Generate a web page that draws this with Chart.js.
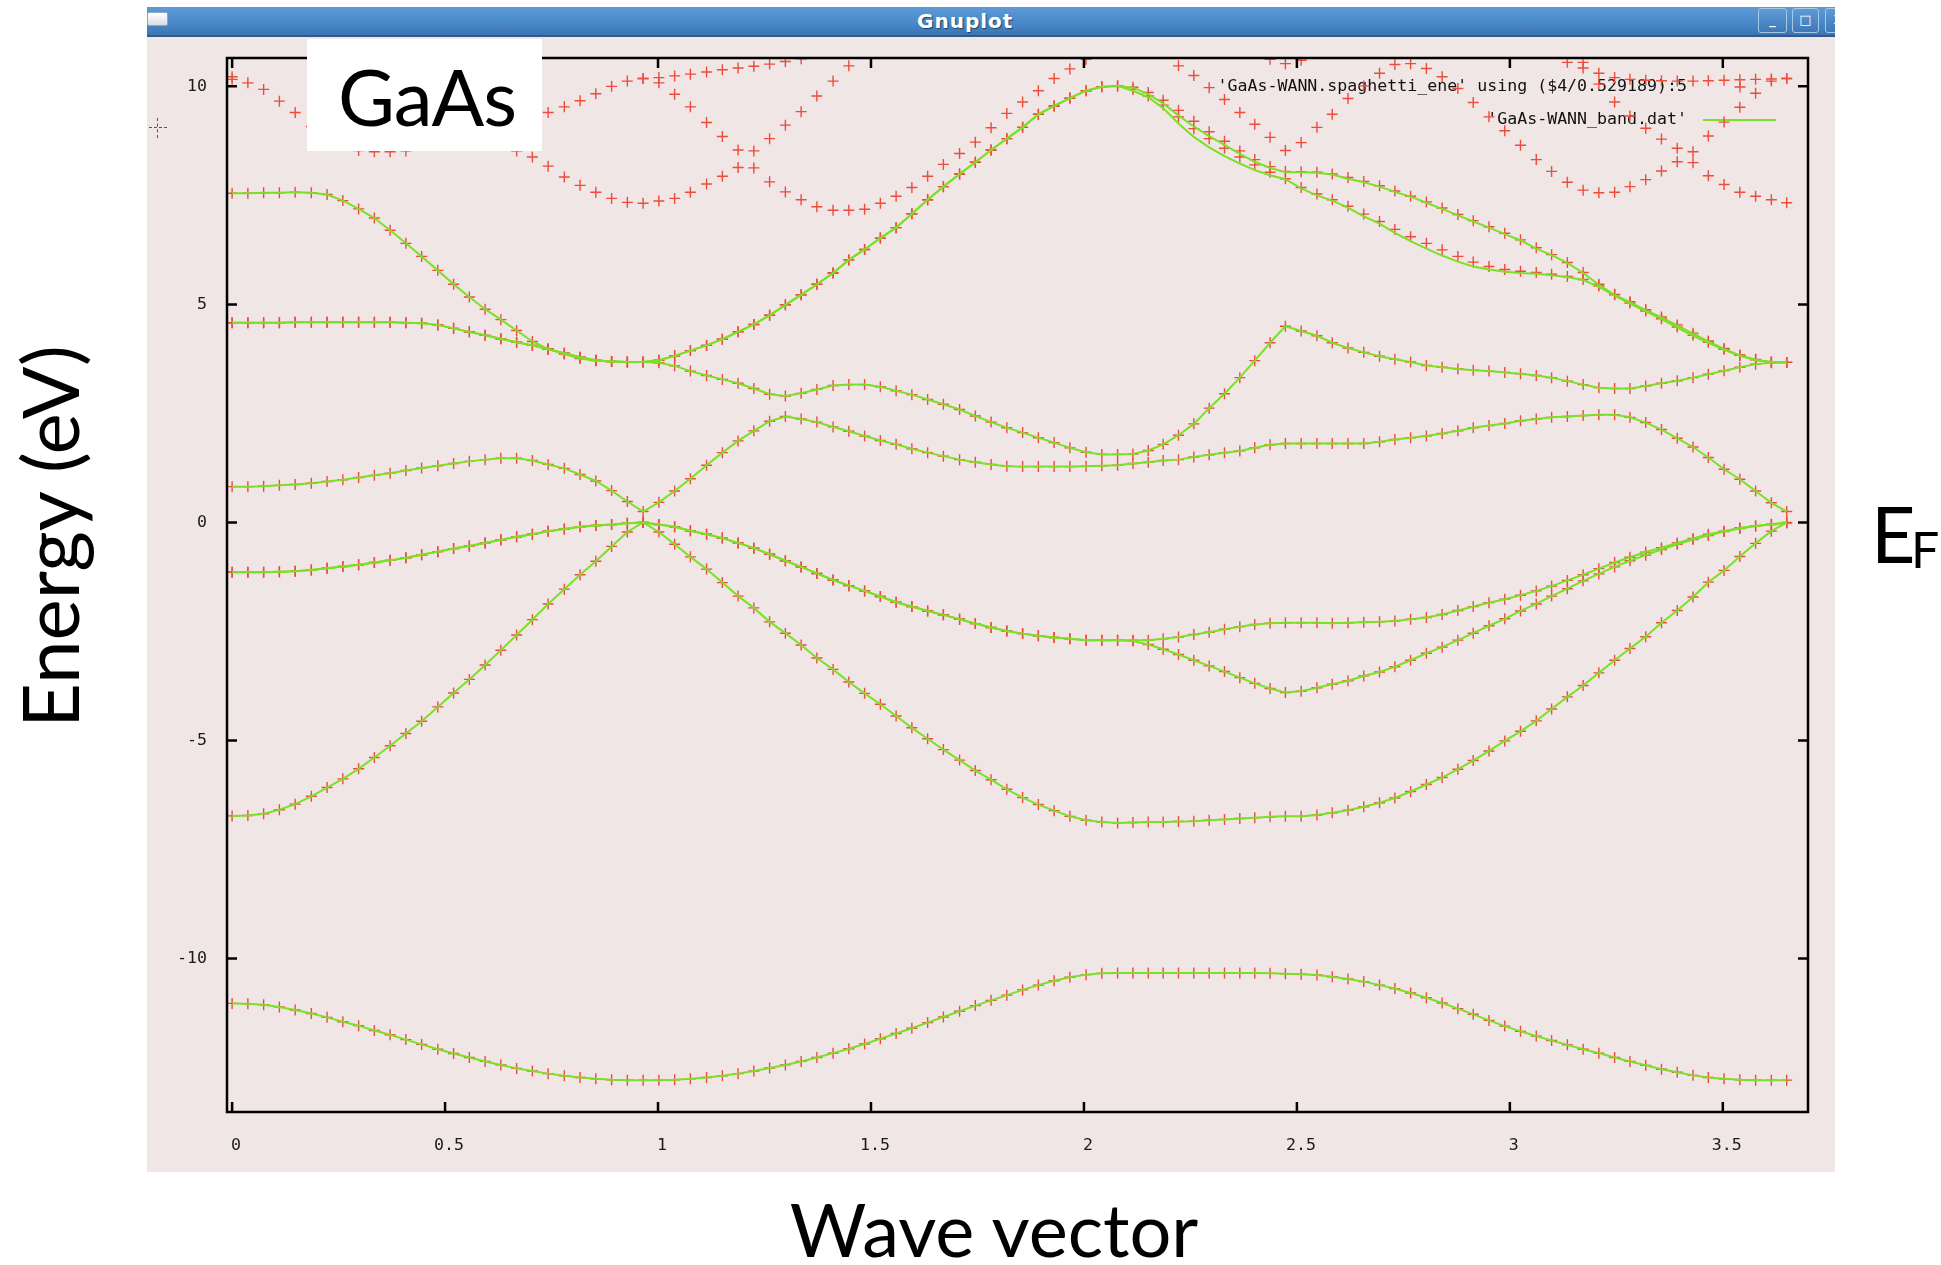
<!DOCTYPE html>
<html>
<head>
<meta charset="utf-8">
<script src="https://cdn.jsdelivr.net/npm/chart.js@4.4.1/dist/chart.umd.min.js"></script>
<style>
  html, body { margin: 0; padding: 0; background: #fff; }
  body { width: 1941px; height: 1265px; position: relative; overflow: hidden; font-family: Lato, sans-serif; }
  .titlebar { position: absolute; left: 147px; top: 7px; width: 1688px; height: 30px; box-sizing: border-box;
    background: linear-gradient(#5c9bd8, #4a89c9 55%, #3d74b1); border-bottom: 2px solid #2d5b8c; overflow: hidden; }
  .titlebar .name { position: absolute; left: 770px; top: 2px; font: bold 20px "DejaVu Sans", sans-serif; color: #fff;
    letter-spacing: 1px; text-shadow: 1px 1px 1px #1f3f62; }
  .titlebar .icon { position: absolute; left: 0; top: 5px; width: 21px; height: 14px; border-radius: 2px;
    background: linear-gradient(#fff, #d9dde3); border: 1px solid #8fa9c4; box-sizing: border-box; }
  .titlebar .btn { position: absolute; top: 1px; height: 25px; border: 1px solid #a6c8ea; border-radius: 3px; box-sizing: border-box;
    background: linear-gradient(#5d9bd6, #3f78b6); color: #fff; font: bold 13px "DejaVu Sans", sans-serif; text-align: center; line-height: 22px; }
  .win { position: absolute; left: 147px; top: 37px; width: 1688px; height: 1135px; background: #efe6e5; }
  .win canvas { position: absolute; left: 0; top: 0; }
  .cursor-h { position: absolute; left: 149px; top: 127px; width: 18px; border-top: 1px dashed #555; }
  .cursor-v { position: absolute; left: 157px; top: 118px; height: 20px; border-left: 1px dashed #555; }
  .slide { position: absolute; color: #000; white-space: nowrap; line-height: 1; }
  .tag { position: absolute; left: 307px; top: 39px; width: 235px; height: 112px; background: #fff; }
  .tag span { position: absolute; left: 5px; right: 0; top: 18px; text-align: center; font-size: 78px; line-height: 1; letter-spacing: -1px; }
</style>
</head>
<body>
<div class="titlebar">
  <div class="icon"></div>
  <div class="name">Gnuplot</div>
  <div class="btn" style="left:1611px;width:29px;">_</div>
  <div class="btn" style="left:1645px;width:27px;">&#9633;</div>
  <div class="btn" style="left:1678px;width:27px;">X</div>
</div>
<div class="win"><canvas id="bands" width="1688" height="1135"></canvas></div>
<div class="cursor-h"></div>
<div class="cursor-v"></div>
<div class="tag"><span>GaAs</span></div>
<div class="slide" style="left:10px;top:728px;font-size:78px;transform-origin:0 0;transform:rotate(-90deg);">Energy (eV)</div>
<div class="slide" style="left:994px;top:1192px;font-size:74px;transform:translateX(-50%);">Wave vector</div>
<div class="slide" style="left:1871px;top:495px;font-size:77px;">E</div>
<div class="slide" style="left:1911px;top:524px;font-size:50px;">F</div>

<script>
// k positions of the computed points along L - Gamma - X - U|K - Gamma
const kPath = [
  0.000, 0.037, 0.074, 0.111, 0.148, 0.186, 0.223, 0.260, 0.297, 0.334, 0.371, 0.408, 0.445, 0.483, 0.520, 0.557, 0.594, 0.631, 0.668, 0.705, 0.742, 0.780, 0.817, 0.854, 0.891, 0.928, 0.965,
  1.002, 1.039, 1.076, 1.114, 1.151, 1.188, 1.225, 1.262, 1.299, 1.336, 1.373, 1.411, 1.448, 1.485, 1.522, 1.559, 1.596, 1.633, 1.670, 1.708, 1.745, 1.782, 1.819, 1.856, 1.893, 1.930, 1.967, 2.005, 2.042, 2.079,
  2.115, 2.151, 2.186, 2.222, 2.258, 2.294, 2.330, 2.366, 2.401, 2.437, 2.473,
  2.510, 2.547, 2.583, 2.620, 2.657, 2.694, 2.730, 2.767, 2.804, 2.841, 2.878, 2.914, 2.951, 2.988, 3.025, 3.062, 3.098, 3.135, 3.172, 3.209, 3.246, 3.282, 3.319, 3.356, 3.393, 3.430, 3.466, 3.503, 3.540, 3.577, 3.614, 3.650
];

// Wannier-interpolated bands (green lines), eV
const wann1 = [
  -11.03, -11.04, -11.06, -11.11, -11.18, -11.26, -11.35, -11.45, -11.54, -11.65, -11.75, -11.86, -11.97, -12.08, -12.18, -12.27, -12.36, -12.44, -12.52, -12.58, -12.64, -12.69, -12.73, -12.76, -12.78, -12.79, -12.79,
  -12.79, -12.78, -12.76, -12.73, -12.69, -12.64, -12.58, -12.51, -12.44, -12.36, -12.27, -12.17, -12.07, -11.96, -11.84, -11.72, -11.60, -11.47, -11.34, -11.21, -11.08, -10.96, -10.84, -10.72, -10.61, -10.51, -10.43, -10.37, -10.34, -10.33,
  -10.33, -10.33, -10.33, -10.33, -10.33, -10.33, -10.33, -10.33, -10.33, -10.34, -10.35,
  -10.36, -10.38, -10.42, -10.47, -10.53, -10.61, -10.69, -10.79, -10.90, -11.02, -11.15, -11.28, -11.42, -11.55, -11.67, -11.78, -11.88, -11.98, -12.08, -12.17, -12.27, -12.36, -12.45, -12.54, -12.61, -12.68, -12.73, -12.76, -12.78, -12.79, -12.79, -12.79
];
const wann2 = [
  -6.73, -6.72, -6.68, -6.59, -6.46, -6.28, -6.08, -5.88, -5.65, -5.39, -5.12, -4.84, -4.56, -4.23, -3.91, -3.60, -3.27, -2.93, -2.58, -2.23, -1.87, -1.53, -1.20, -0.89, -0.55, -0.22, 0.00,
  -0.22, -0.50, -0.79, -1.07, -1.38, -1.69, -1.96, -2.28, -2.54, -2.81, -3.11, -3.37, -3.66, -3.92, -4.17, -4.44, -4.71, -4.96, -5.21, -5.45, -5.69, -5.90, -6.12, -6.31, -6.47, -6.61, -6.74, -6.83, -6.87, -6.89,
  -6.88, -6.87, -6.87, -6.86, -6.85, -6.83, -6.81, -6.79, -6.77, -6.75, -6.74,
  -6.74, -6.71, -6.66, -6.60, -6.52, -6.43, -6.32, -6.17, -6.01, -5.85, -5.66, -5.46, -5.24, -5.01, -4.79, -4.55, -4.28, -4.00, -3.74, -3.45, -3.16, -2.89, -2.62, -2.30, -2.02, -1.71, -1.37, -1.10, -0.78, -0.48, -0.20, 0.00
];
const wann3 = [
  -1.14, -1.14, -1.14, -1.13, -1.12, -1.09, -1.05, -1.01, -0.97, -0.92, -0.87, -0.81, -0.74, -0.67, -0.60, -0.54, -0.47, -0.40, -0.33, -0.27, -0.20, -0.15, -0.10, -0.07, -0.05, -0.02, 0.00,
  -0.05, -0.10, -0.19, -0.27, -0.36, -0.47, -0.59, -0.73, -0.88, -1.02, -1.17, -1.32, -1.45, -1.57, -1.70, -1.83, -1.93, -2.03, -2.12, -2.22, -2.32, -2.41, -2.49, -2.55, -2.60, -2.64, -2.67, -2.70, -2.70, -2.70,
  -2.72, -2.80, -2.91, -3.03, -3.16, -3.29, -3.42, -3.56, -3.69, -3.81, -3.90,
  -3.87, -3.79, -3.71, -3.63, -3.52, -3.43, -3.31, -3.16, -3.00, -2.86, -2.70, -2.54, -2.37, -2.21, -2.03, -1.87, -1.69, -1.52, -1.34, -1.18, -1.02, -0.88, -0.75, -0.62, -0.50, -0.39, -0.30, -0.21, -0.14, -0.08, -0.05, -0.01
];
const wann4 = [
  -1.14, -1.14, -1.14, -1.13, -1.12, -1.09, -1.05, -1.01, -0.97, -0.92, -0.87, -0.81, -0.74, -0.67, -0.60, -0.54, -0.47, -0.40, -0.33, -0.27, -0.20, -0.15, -0.10, -0.07, -0.05, -0.02, 0.00,
  -0.05, -0.10, -0.19, -0.27, -0.36, -0.47, -0.59, -0.73, -0.88, -1.02, -1.17, -1.32, -1.45, -1.57, -1.70, -1.83, -1.93, -2.03, -2.12, -2.22, -2.32, -2.41, -2.49, -2.55, -2.60, -2.64, -2.67, -2.70, -2.70, -2.70,
  -2.70, -2.70, -2.67, -2.63, -2.57, -2.52, -2.45, -2.39, -2.34, -2.31, -2.30,
  -2.30, -2.30, -2.31, -2.30, -2.29, -2.28, -2.26, -2.22, -2.18, -2.11, -2.02, -1.93, -1.84, -1.76, -1.67, -1.57, -1.46, -1.33, -1.20, -1.06, -0.92, -0.80, -0.68, -0.58, -0.47, -0.37, -0.27, -0.20, -0.12, -0.08, -0.04, -0.01
];
const wann5 = [
  0.82, 0.82, 0.83, 0.85, 0.87, 0.90, 0.94, 0.98, 1.03, 1.08, 1.13, 1.19, 1.25, 1.30, 1.35, 1.40, 1.44, 1.47, 1.47, 1.42, 1.33, 1.24, 1.10, 0.95, 0.73, 0.48, 0.25,
  0.46, 0.72, 1.00, 1.31, 1.60, 1.87, 2.10, 2.32, 2.43, 2.37, 2.30, 2.19, 2.09, 1.98, 1.88, 1.79, 1.69, 1.60, 1.52, 1.44, 1.38, 1.33, 1.29, 1.28, 1.28, 1.28, 1.28, 1.29, 1.30, 1.31,
  1.35, 1.38, 1.42, 1.44, 1.50, 1.55, 1.60, 1.64, 1.71, 1.78, 1.81,
  1.81, 1.81, 1.81, 1.81, 1.81, 1.85, 1.90, 1.94, 1.98, 2.04, 2.10, 2.17, 2.22, 2.27, 2.33, 2.37, 2.41, 2.43, 2.45, 2.47, 2.47, 2.41, 2.29, 2.13, 1.93, 1.73, 1.49, 1.22, 0.99, 0.72, 0.45, 0.25
];
const wann6 = [
  4.58, 4.58, 4.58, 4.58, 4.59, 4.59, 4.59, 4.59, 4.59, 4.59, 4.59, 4.58, 4.57, 4.53, 4.45, 4.37, 4.29, 4.21, 4.13, 4.06, 3.97, 3.88, 3.79, 3.72, 3.69, 3.68, 3.68,
  3.66, 3.59, 3.47, 3.37, 3.28, 3.19, 3.07, 2.94, 2.90, 2.96, 3.05, 3.14, 3.16, 3.16, 3.11, 3.02, 2.93, 2.82, 2.71, 2.59, 2.44, 2.30, 2.17, 2.06, 1.94, 1.83, 1.71, 1.61, 1.56, 1.56,
  1.57, 1.65, 1.79, 2.00, 2.26, 2.62, 2.95, 3.32, 3.71, 4.12, 4.50,
  4.39, 4.28, 4.12, 4.00, 3.90, 3.81, 3.74, 3.68, 3.60, 3.56, 3.52, 3.49, 3.47, 3.44, 3.41, 3.37, 3.32, 3.24, 3.16, 3.09, 3.07, 3.07, 3.13, 3.19, 3.25, 3.32, 3.40, 3.48, 3.56, 3.63, 3.66, 3.67
];
const wann7 = [
  4.58, 4.58, 4.58, 4.58, 4.59, 4.59, 4.59, 4.59, 4.59, 4.59, 4.59, 4.58, 4.57, 4.53, 4.45, 4.37, 4.29, 4.21, 4.13, 4.06, 3.97, 3.88, 3.79, 3.72, 3.69, 3.68, 3.68,
  3.72, 3.82, 3.94, 4.06, 4.20, 4.37, 4.54, 4.75, 4.99, 5.22, 5.46, 5.72, 6.02, 6.26, 6.52, 6.76, 7.08, 7.40, 7.70, 7.99, 8.26, 8.54, 8.80, 9.06, 9.36, 9.55, 9.73, 9.90, 9.99, 10.01,
  9.90, 9.75, 9.50, 9.15, 8.84, 8.60, 8.40, 8.23, 8.08, 7.96, 7.87,
  7.66, 7.50, 7.38, 7.22, 7.02, 6.85, 6.64, 6.45, 6.28, 6.12, 5.98, 5.87, 5.80, 5.75, 5.72, 5.70, 5.67, 5.63, 5.56, 5.40, 5.20, 5.02, 4.84, 4.66, 4.47, 4.28, 4.12, 3.96, 3.82, 3.72, 3.68, 3.67
];
const wann8 = [
  7.55, 7.55, 7.56, 7.56, 7.57, 7.56, 7.52, 7.38, 7.19, 6.98, 6.70, 6.40, 6.10, 5.78, 5.46, 5.17, 4.89, 4.65, 4.40, 4.15, 3.98, 3.86, 3.76, 3.71, 3.69, 3.68, 3.68,
  3.72, 3.82, 3.94, 4.06, 4.20, 4.37, 4.54, 4.75, 4.99, 5.22, 5.46, 5.72, 6.02, 6.26, 6.52, 6.76, 7.08, 7.40, 7.70, 7.99, 8.26, 8.54, 8.80, 9.06, 9.36, 9.55, 9.73, 9.90, 9.99, 10.01,
  9.97, 9.82, 9.61, 9.33, 9.08, 8.86, 8.66, 8.45, 8.27, 8.13, 8.03,
  8.03, 8.02, 7.98, 7.88, 7.80, 7.70, 7.58, 7.47, 7.33, 7.19, 7.04, 6.90, 6.76, 6.61, 6.47, 6.28, 6.13, 5.95, 5.72, 5.45, 5.22, 5.05, 4.87, 4.70, 4.52, 4.33, 4.15, 3.98, 3.83, 3.73, 3.68, 3.67
];

// DFT points (red crosses); the lowest six bands lie on the Wannier curves, so they reuse wann1..wann6
const dft7 = [
  4.58, 4.58, 4.58, 4.58, 4.59, 4.59, 4.59, 4.59, 4.59, 4.59, 4.59, 4.58, 4.57, 4.53, 4.45, 4.37, 4.29, 4.21, 4.13, 4.06, 3.97, 3.88, 3.79, 3.72, 3.69, 3.68, 3.68,
  3.72, 3.82, 3.94, 4.06, 4.20, 4.37, 4.54, 4.75, 4.99, 5.22, 5.46, 5.72, 6.02, 6.26, 6.52, 6.76, 7.08, 7.40, 7.70, 7.99, 8.26, 8.54, 8.80, 9.06, 9.36, 9.55, 9.73, 9.90, 9.99, 10.01,
  9.93, 9.78, 9.57, 9.30, 9.03, 8.80, 8.58, 8.38, 8.20, 8.03, 7.88,
  7.68, 7.53, 7.40, 7.25, 7.07, 6.90, 6.72, 6.55, 6.40, 6.25, 6.10, 5.97, 5.87, 5.80, 5.76, 5.73, 5.69, 5.64, 5.57, 5.42, 5.22, 5.03, 4.85, 4.67, 4.48, 4.29, 4.13, 3.97, 3.83, 3.73, 3.68, 3.67
];
const dft8 = [
  7.55, 7.55, 7.56, 7.56, 7.57, 7.56, 7.52, 7.38, 7.19, 6.98, 6.70, 6.40, 6.10, 5.78, 5.46, 5.17, 4.89, 4.65, 4.40, 4.15, 3.98, 3.86, 3.76, 3.71, 3.69, 3.68, 3.68,
  3.72, 3.82, 3.94, 4.06, 4.20, 4.37, 4.54, 4.75, 4.99, 5.22, 5.46, 5.72, 6.02, 6.26, 6.52, 6.76, 7.08, 7.40, 7.70, 7.99, 8.26, 8.54, 8.80, 9.06, 9.36, 9.55, 9.73, 9.90, 9.99, 10.01,
  9.98, 9.86, 9.68, 9.45, 9.20, 8.96, 8.74, 8.52, 8.32, 8.16, 8.05,
  8.04, 8.03, 7.99, 7.91, 7.82, 7.72, 7.60, 7.48, 7.35, 7.21, 7.06, 6.92, 6.78, 6.63, 6.48, 6.30, 6.14, 5.96, 5.73, 5.46, 5.23, 5.06, 4.88, 4.71, 4.53, 4.34, 4.16, 3.99, 3.84, 3.74, 3.68, 3.67
];
const dft9 = [
  10.16, 10.08, 9.93, 9.66, 9.40, 9.08, 8.85, 8.66, 8.53, 8.50, 8.50, 8.52, 8.66, 8.72, 8.75, 8.75, 8.72, 8.66, 8.52, 8.38, 8.17, 7.92, 7.73, 7.57, 7.43, 7.34, 7.32,
  7.37, 7.43, 7.57, 7.76, 7.94, 8.14, 8.13, 7.81, 7.58, 7.40, 7.24, 7.16, 7.16, 7.18, 7.32, 7.48, 7.68, 7.94, 8.21, 8.46, 8.72, 9.05, 9.38, 9.64, 9.90, 10.18, 10.40, 10.62, null, null,
  null, null, null, 10.47, 10.25, 9.97, 9.70, 9.40, 9.13, 8.83, 8.53,
  8.71, 9.06, 9.36, 9.72, 10.01, 10.30, 10.50, 10.52, 10.41, 10.22, 9.95, 9.63, 9.30, 8.98, 8.65, 8.32, 8.05, 7.80, 7.62, 7.56, 7.57, 7.70, 7.86, 8.06, 8.27, 8.50, 8.86, 9.18, 9.52, 9.84, 10.12, 10.18
];
const dft10 = [
  10.22, null, null, null, null, null, null, null, null, null, null, null, null, null, null, null, null, null, null, 9.22, 9.40, 9.53, 9.67, 9.83, 10.00, 10.12, 10.18,
  10.08, 9.82, 9.53, 9.17, 8.85, 8.54, 8.52, 8.80, 9.11, 9.42, 9.78, 10.12, 10.47, null, null, null, null, null, null, null, null, null, null, null, null, null, null, null, null, null,
  null, null, null, null, null, null, null, null, null, 10.62, 10.52,
  10.60, null, null, null, null, null, null, null, null, null, null, null, null, null, null, null, null, 10.55, 10.42, 10.05, 9.64, 9.32, 9.04, 8.79, 8.58, 8.25, 7.95, 7.75, 7.57, 7.48, 7.40, 7.33
];
const dft11 = [
  null, null, null, null, null, null, null, null, null, null, null, null, null, null, null, null, null, null, null, null, null, null, null, null, null, null, 10.18,
  10.20, 10.24, 10.28, 10.33, 10.38, 10.42, 10.46, 10.51, 10.57, 10.63, null, null, null, null, null, null, null, null, null, null, null, null, null, null, null, null, null, null, null, null,
  null, null, null, null, null, null, null, null, null, null, null,
  null, null, null, null, null, null, null, null, null, null, null, null, null, null, null, null, null, null, 10.55, 10.30, 10.20, 10.16, 10.14, 10.13, 10.12, 10.12, 10.13, 10.14, 10.15, 10.16, 10.17, 10.18
];

const wannierBands = [wann1, wann2, wann3, wann4, wann5, wann6, wann7, wann8];
const dftBands = [wann1, wann2, wann3, wann4, wann5, wann6, dft7, dft8, dft9, dft10, dft11];

const xTicksStep = 0.5;
const yTicksStep = 5;
const keyLabels = ["'GaAs-WANN.spaghetti_ene' using ($4/0.529189):5", "'GaAs-WANN_band.dat'"];

const RED = '#ee4b3b';
const GREEN = '#7ddf26';
const MONO = '"DejaVu Sans Mono", monospace';

const toPoints = ys => kPath.map((k, i) => ({ x: k, y: ys[i] }));

const datasets = [];
wannierBands.forEach((b, i) => datasets.push({
  label: keyLabels[1], keyRow: i === 0 ? 1 : null,
  data: toPoints(b), showLine: true, borderColor: GREEN, borderWidth: 2,
  pointRadius: 0, tension: 0, order: 0
}));
dftBands.forEach((b, i) => datasets.push({
  label: keyLabels[0], keyRow: i === 0 ? 0 : null,
  data: toPoints(b), showLine: false, pointStyle: 'cross', pointRadius: 5.5,
  pointBorderWidth: 1.4, borderColor: RED, backgroundColor: RED, order: 1
}));

// gnuplot-like key: right-justified text with the sample to its right
const gnuKey = {
  id: 'gnuKey',
  beforeDatasetsDraw(chart) {
    const { ctx, chartArea: a } = chart;
    ctx.save();
    ctx.font = '16.6px ' + MONO;
    ctx.fillStyle = '#111';
    ctx.textAlign = 'right';
    ctx.textBaseline = 'middle';
    chart.data.datasets.filter(d => d.keyRow !== null).forEach(d => {
      const yy = a.top + 29 + d.keyRow * 33;
      ctx.fillText(d.label, a.right - 121, yy);
      if (d.showLine) {
        ctx.strokeStyle = d.borderColor; ctx.lineWidth = d.borderWidth;
        ctx.beginPath(); ctx.moveTo(a.right - 105, yy); ctx.lineTo(a.right - 32, yy); ctx.stroke();
      } else {
        const cx = a.right - 68, r = d.pointRadius;
        ctx.strokeStyle = d.borderColor; ctx.lineWidth = d.pointBorderWidth;
        ctx.beginPath(); ctx.moveTo(cx - r, yy); ctx.lineTo(cx + r, yy);
        ctx.moveTo(cx, yy - r); ctx.lineTo(cx, yy + r); ctx.stroke();
      }
    });
    ctx.restore();
  }
};

// border box with inward ticks on all four sides
const gnuFrame = {
  id: 'gnuFrame',
  afterDatasetsDraw(chart) {
    const { ctx, chartArea: a, scales: { x, y } } = chart;
    const tl = 10;
    ctx.save();
    ctx.strokeStyle = '#000';
    ctx.lineWidth = 2.5;
    ctx.strokeRect(a.left, a.top, a.right - a.left, a.bottom - a.top);
    ctx.beginPath();
    x.ticks.forEach(t => {
      const px = x.getPixelForValue(t.value);
      ctx.moveTo(px, a.bottom); ctx.lineTo(px, a.bottom - tl);
      ctx.moveTo(px, a.top); ctx.lineTo(px, a.top + tl);
    });
    y.ticks.forEach(t => {
      const py = y.getPixelForValue(t.value);
      ctx.moveTo(a.left, py); ctx.lineTo(a.left + tl, py);
      ctx.moveTo(a.right, py); ctx.lineTo(a.right - tl, py);
    });
    ctx.stroke();
    ctx.restore();
  }
};

new Chart(document.getElementById('bands'), {
  type: 'scatter',
  data: { datasets },
  options: {
    responsive: false,
    animation: false,
    events: [],
    layout: { padding: { left: 0, right: 27, top: 21, bottom: 0 } },
    plugins: { legend: { display: false }, tooltip: { enabled: false } },
    scales: {
      x: {
        type: 'linear', min: -0.012, max: 3.70,
        afterFit(s) { s.height = 60; s.paddingLeft = 0; s.paddingRight = 0; },
        grid: { display: false, drawTicks: false },
        border: { display: false },
        ticks: { stepSize: xTicksStep, includeBounds: false, padding: 24, labelOffset: 4,
          color: '#1a1a1a', font: { family: MONO, size: 16.6 }, maxRotation: 0,
          callback: v => String(v) }
      },
      y: {
        type: 'linear', min: -13.52, max: 10.65,
        // keep the frame where gnuplot put it: no extra room for the tick labels
        afterFit(s) { s.width = 80; s.paddingTop = 0; s.paddingBottom = 0; },
        grid: { display: false, drawTicks: false },
        border: { display: false },
        ticks: { stepSize: yTicksStep, includeBounds: false, padding: 20,
          color: '#1a1a1a', font: { family: MONO, size: 16.6 },
          callback: v => String(v) }
      }
    }
  },
  plugins: [gnuKey, gnuFrame]
});
</script>
</body>
</html>
